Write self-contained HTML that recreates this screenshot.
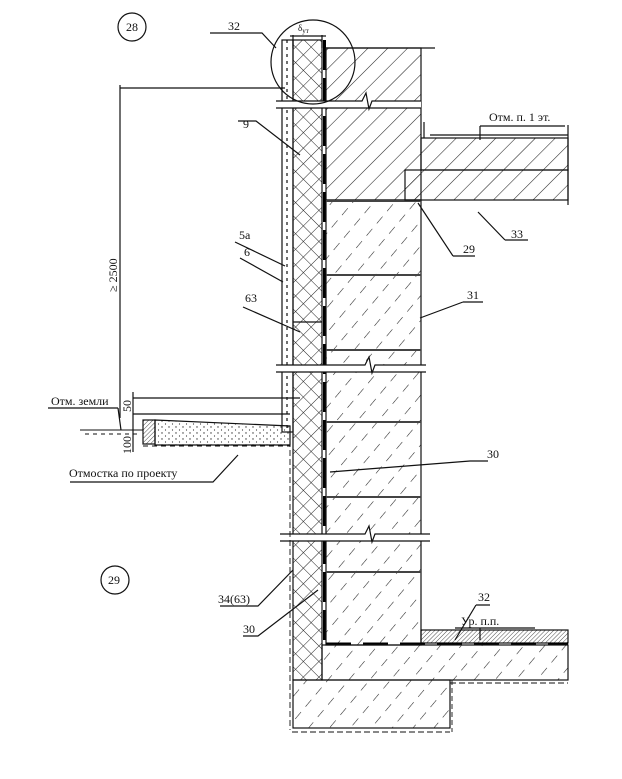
<!DOCTYPE html>
<html><head><meta charset="utf-8"><style>
html,body{margin:0;padding:0;background:#fff}
svg{display:block}
text{font-family:"Liberation Serif","DejaVu Serif",serif;fill:#111}
</style></head><body>
<svg width="622" height="779" viewBox="0 0 622 779" xmlns="http://www.w3.org/2000/svg">
<defs>
<pattern id="diag" width="14" height="14" patternUnits="userSpaceOnUse" patternTransform="rotate(45)">
<line x1="0" y1="0" x2="0" y2="14" stroke="#222" stroke-width="1.1"/></pattern>
<pattern id="diag2" width="16" height="16" patternUnits="userSpaceOnUse" patternTransform="rotate(40)">
<line x1="0" y1="0" x2="0" y2="9" stroke="#222" stroke-width="1.1"/></pattern>
<pattern id="cross" width="11" height="11" patternUnits="userSpaceOnUse" patternTransform="rotate(45)">
<line x1="0" y1="0" x2="0" y2="11" stroke="#222" stroke-width="1"/><line x1="0" y1="0" x2="11" y2="0" stroke="#222" stroke-width="1"/></pattern>
<pattern id="dots" width="7" height="6" patternUnits="userSpaceOnUse">
<circle cx="1" cy="1" r="0.7" fill="#333"/><circle cx="4.5" cy="4" r="0.6" fill="#333"/></pattern>
<pattern id="fine" width="3" height="3" patternUnits="userSpaceOnUse" patternTransform="rotate(45)">
<line x1="0" y1="0" x2="0" y2="3" stroke="#222" stroke-width="0.8"/></pattern>
</defs>
<g stroke="#111" fill="none" stroke-width="1.2">
<rect x="282" y="40" width="11" height="392" fill="#fff"/>
<line x1="287" y1="40" x2="287" y2="432" stroke-dasharray="3,4"/>
<rect x="293" y="40" width="29" height="640" fill="url(#cross)"/>
<line x1="293" y1="322" x2="322" y2="322"/>
<line x1="324.5" y1="40" x2="324.5" y2="645" stroke="#000" stroke-width="3" stroke-dasharray="30,8"/>
<rect x="326" y="48" width="95" height="152" fill="url(#diag)"/>
<line x1="326" y1="48" x2="435" y2="48"/>
<rect x="326" y="200" width="95" height="445" fill="url(#diag2)"/>
<g stroke-width="2" stroke="#444">
<line x1="326" y1="201" x2="421" y2="201"/><line x1="326" y1="275" x2="421" y2="275"/>
<line x1="326" y1="350" x2="421" y2="350"/><line x1="326" y1="422" x2="421" y2="422"/>
<line x1="326" y1="497" x2="421" y2="497"/><line x1="326" y1="572" x2="421" y2="572"/>
</g>
<rect x="421" y="138" width="147" height="32" fill="url(#diag)"/>
<rect x="405" y="170" width="163" height="30" fill="url(#diag)"/>
<line x1="430" y1="135" x2="568" y2="135"/><line x1="568" y1="125" x2="568" y2="205"/>
<line x1="424" y1="122" x2="424" y2="138"/>
<g fill="#fff">
<rect x="276" y="101" width="145" height="7" stroke="none"/>
<rect x="276" y="365" width="150" height="7" stroke="none"/>
<rect x="280" y="534" width="150" height="7" stroke="none"/>
</g>
<path d="M276 101H362l4-8 3 16 3-8H421M276 108H421"/>
<path d="M276 365H365l4-8 3 16 3-8H426M276 372H426"/>
<path d="M280 534H365l4-8 3 16 3-8H430M280 541H430"/>
<rect x="421" y="630" width="147" height="13" fill="url(#fine)"/>
<line x1="326" y1="644" x2="568" y2="644" stroke="#000" stroke-width="3" stroke-dasharray="25,12"/>
<rect x="322" y="645" width="246" height="35" fill="url(#diag2)"/>
<rect x="293" y="680" width="157" height="48" fill="url(#diag2)"/>
<g stroke-width="0.9">
<line x1="290" y1="432" x2="290" y2="730" stroke-dasharray="6,3"/>
<line x1="292" y1="732" x2="450" y2="732" stroke-dasharray="6,3"/>
<line x1="450" y1="683" x2="568" y2="683" stroke-dasharray="6,3"/>
<line x1="452" y1="680" x2="452" y2="732" stroke-dasharray="5,3"/>
<line x1="80" y1="430" x2="143" y2="430"/>
<line x1="85" y1="434" x2="140" y2="434" stroke-dasharray="4,4"/>
<line x1="143" y1="446" x2="290" y2="446" stroke-dasharray="5,4"/>
</g>
<rect x="143" y="420" width="12" height="24" fill="url(#fine)"/>
<path d="M155 420L290 426V445H155Z" fill="url(#dots)"/>
<circle cx="313" cy="62" r="42"/>
<line x1="293" y1="35" x2="293" y2="48"/><line x1="322" y1="35" x2="322" y2="48"/><line x1="290" y1="36" x2="326" y2="36"/>
<line x1="120" y1="88" x2="285" y2="88"/>
<line x1="120" y1="85" x2="120" y2="418"/>
<line x1="133" y1="398" x2="300" y2="398"/>
<line x1="133" y1="414" x2="290" y2="414"/>
<line x1="133" y1="392" x2="133" y2="452"/>
<line x1="48" y1="408" x2="118" y2="408"/><path d="M118 408l3 22"/>
<circle cx="132" cy="27" r="14"/><circle cx="115" cy="580" r="14"/>
<path d="M210 33H262L276 48"/>
<path d="M238 121H256L300 155"/>
<path d="M235 242L285 266"/><path d="M240 258L283 282"/>
<path d="M243 307L300 332"/>
<path d="M453 256H475M453 256L418 203"/>
<path d="M505 240H528M505 240L478 212"/>
<path d="M463 302H483M463 302L420 318"/>
<path d="M330 472L470 461H488"/>
<path d="M220 606H258L293 570"/>
<path d="M243 636H258L318 590"/>
<path d="M476 605H490M476 605L455 640"/>
<path d="M455 628H535M480 628V640"/>
<path d="M480 126H565M480 126V140"/>
<path d="M70 482H213L238 455"/>
</g>
<g font-size="12">
<text x="126" y="31">28</text>
<text x="108" y="584">29</text>
<text x="228" y="30">32</text>
<text x="298" y="31" font-size="9">δ<tspan font-size="7" dy="2">ут</tspan></text>
<text x="243" y="128">9</text>
<text x="239" y="239">5а</text>
<text x="244" y="256">6</text>
<text x="245" y="302">63</text>
<text x="463" y="253">29</text>
<text x="511" y="238">33</text>
<text x="467" y="299">31</text>
<text x="487" y="458">30</text>
<text x="218" y="603">34(63)</text>
<text x="243" y="633">30</text>
<text x="478" y="601">32</text>
<text x="461" y="625">Ур. п.п.</text>
<text x="489" y="121">Отм. п. 1 эт.</text>
<text x="51" y="405">Отм. земли</text>
<text x="69" y="477">Отмостка по проекту</text>
<text transform="translate(117,292) rotate(-90)">≥ 2500</text>
<text transform="translate(131,412) rotate(-90)">50</text>
<text transform="translate(131,454) rotate(-90)">100</text>
</g>
</svg>
</body></html>
